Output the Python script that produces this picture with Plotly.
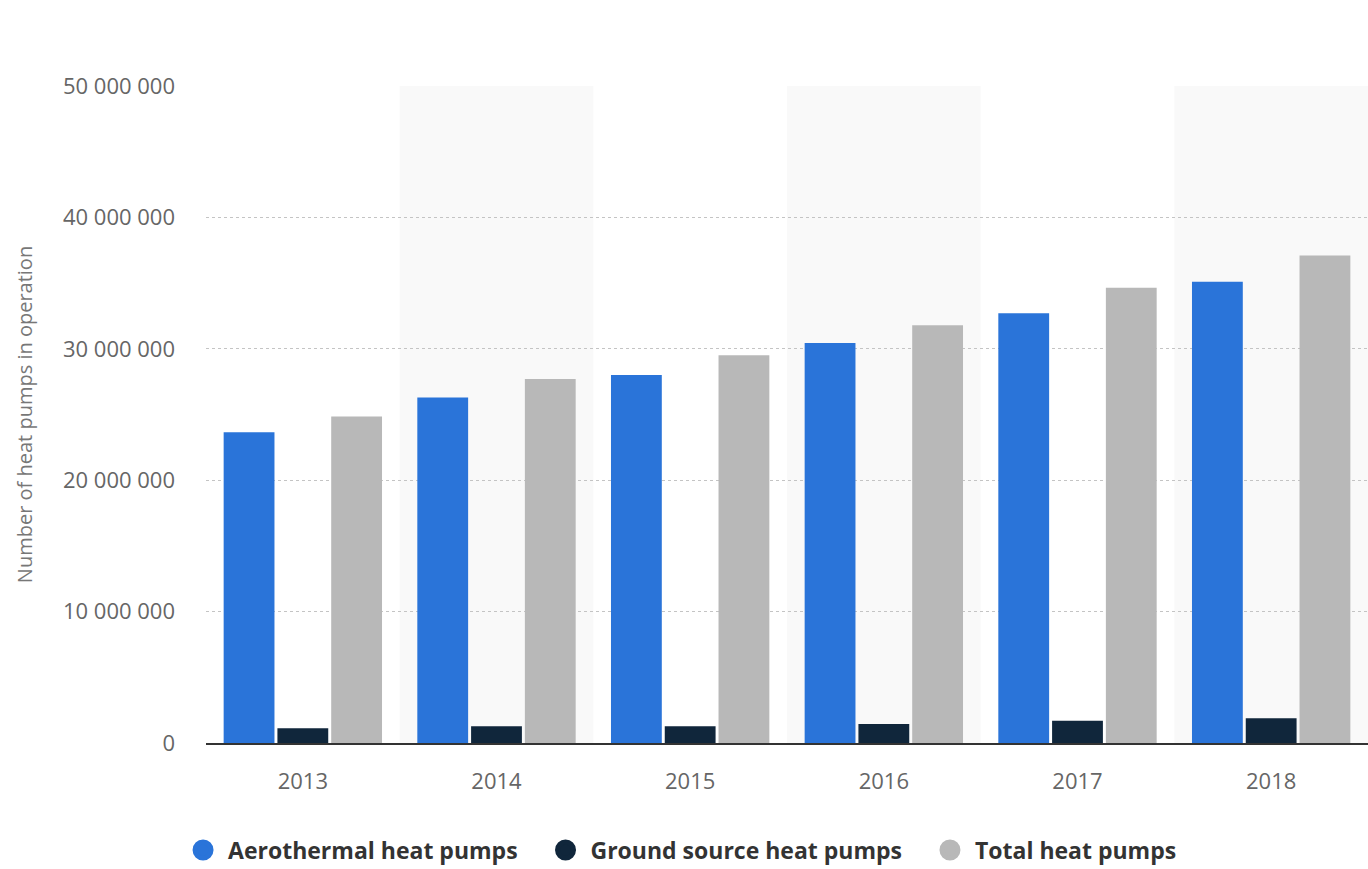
import plotly.graph_objects as go

years = ["2013", "2014", "2015", "2016", "2017", "2018"]
aerothermal = [23.65e6, 26.3e6, 28.0e6, 30.45e6, 32.7e6, 35.1e6]
ground_source = [1.12e6, 1.27e6, 1.28e6, 1.45e6, 1.70e6, 1.88e6]
total = [24.85e6, 27.7e6, 29.5e6, 31.8e6, 34.65e6, 37.1e6]

series_names = ["Aerothermal heat pumps", "Ground source heat pumps", "Total heat pumps"]
series_colors = ["#2a74d9", "#10263b", "#b8b8b8"]

y_tickvals = [0, 10e6, 20e6, 30e6, 40e6, 50e6]
y_ticktext = ["0", "10 000 000", "20 000 000", "30 000 000", "40 000 000", "50 000 000"]
y_title = "Number of heat pumps in operation"

fig = go.Figure()
for name, vals, col in zip(series_names, [aerothermal, ground_source, total], series_colors):
    fig.add_trace(go.Bar(x=years, y=vals, name=name, marker_color=col,
                         marker_line_width=0, showlegend=False))
# legend entries with round markers
for name, col in zip(series_names, series_colors):
    fig.add_trace(go.Scatter(x=[None], y=[None], mode="markers", name=name + "   ",
                             marker=dict(symbol="circle", size=16, color=col,
                                         line=dict(color=col, width=5))))

shapes = []
for i in range(1, len(years), 2):
    shapes.append(dict(type="rect", xref="x", yref="y", x0=i - 0.5, x1=i + 0.5,
                       y0=0, y1=50e6, fillcolor="#f9f9f9", line=dict(width=0),
                       layer="below"))

fig.update_layout(
    width=1368, height=869,
    margin=dict(l=206, r=0, t=86, b=126, autoexpand=False),
    paper_bgcolor="white", plot_bgcolor="white",
    barmode="group", bargap=0.167, bargroupgap=0.055,
    shapes=shapes,
    font=dict(family="Open Sans", color="#666666"),
    xaxis=dict(type="category", showgrid=False, showline=True, linecolor="#333333",
               linewidth=2, ticks="", tickfont=dict(size=22, color="#666666"),
               ticklabelstandoff=18),
    yaxis=dict(range=[0, 50e6], tickvals=y_tickvals, ticktext=y_ticktext,
               showgrid=True, gridcolor="#c4c4c4", griddash="dot", gridwidth=1,
               zeroline=False, showline=False, ticks="",
               tickfont=dict(size=22, color="#666666"), ticklabelstandoff=30,
               title=dict(text=y_title, font=dict(size=20, color="#777777"))),
    legend=dict(orientation="h", x=0.4157, xanchor="center", y=-0.163, yanchor="middle",
                font=dict(family="Open Sans", size=23, color="#333333", weight="bold"),
                itemwidth=40, itemsizing="trace", bgcolor="rgba(0,0,0,0)"),
)
fig.update_yaxes(title_standoff=24)
fig.write_html("out.html")
